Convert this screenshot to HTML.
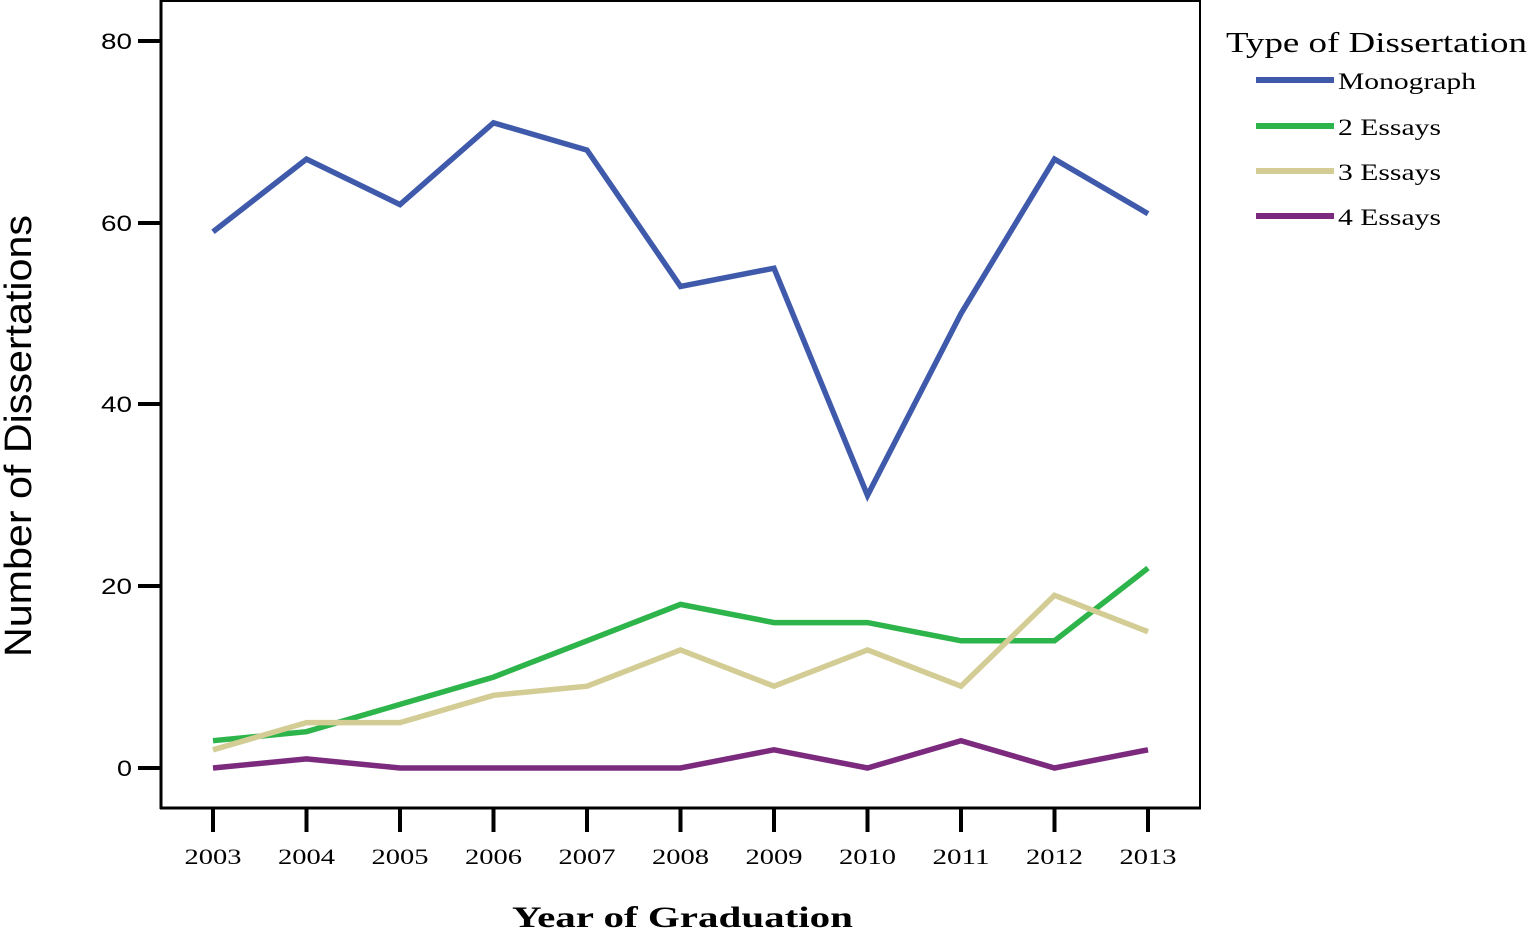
<!DOCTYPE html>
<html><head><meta charset="utf-8"><style>body{margin:0;background:#fff}svg{display:block}</style></head>
<body>
<svg width="1529" height="928" xmlns="http://www.w3.org/2000/svg">
<rect x="0" y="0" width="1529" height="928" fill="#fff"/>
<line x1="161" y1="1" x2="1200" y2="1" stroke="#000" stroke-width="2"/>
<line x1="1200" y1="0" x2="1200" y2="809" stroke="#000" stroke-width="2"/>
<line x1="161" y1="0" x2="161" y2="809" stroke="#000" stroke-width="3"/>
<line x1="160" y1="808" x2="1201" y2="808" stroke="#000" stroke-width="3"/>
<g stroke="#000" stroke-width="4">
<line x1="138" y1="41" x2="161" y2="41"/><line x1="138" y1="223" x2="161" y2="223"/>
<line x1="138" y1="404" x2="161" y2="404"/><line x1="138" y1="586" x2="161" y2="586"/>
<line x1="138" y1="768" x2="161" y2="768"/>
<line x1="213" y1="808" x2="213" y2="832"/><line x1="306.5" y1="808" x2="306.5" y2="832"/>
<line x1="400" y1="808" x2="400" y2="832"/><line x1="493.5" y1="808" x2="493.5" y2="832"/>
<line x1="587" y1="808" x2="587" y2="832"/><line x1="680.5" y1="808" x2="680.5" y2="832"/>
<line x1="774" y1="808" x2="774" y2="832"/><line x1="867.5" y1="808" x2="867.5" y2="832"/>
<line x1="961" y1="808" x2="961" y2="832"/><line x1="1054.5" y1="808" x2="1054.5" y2="832"/>
<line x1="1148" y1="808" x2="1148" y2="832"/>
</g>
<g font-family="Liberation Sans, sans-serif" font-size="22" fill="#000" lengthAdjust="spacingAndGlyphs">
<text x="101" y="49" textLength="31" lengthAdjust="spacingAndGlyphs">80</text>
<text x="101" y="231" textLength="31" lengthAdjust="spacingAndGlyphs">60</text>
<text x="101" y="412" textLength="31" lengthAdjust="spacingAndGlyphs">40</text>
<text x="101" y="594" textLength="31" lengthAdjust="spacingAndGlyphs">20</text>
<text x="117" y="776" textLength="15" lengthAdjust="spacingAndGlyphs">0</text>
</g>
<g font-family="Liberation Serif, serif" font-size="22" fill="#000">
<text x="184.5" y="864" textLength="57" lengthAdjust="spacingAndGlyphs">2003</text>
<text x="278" y="864" textLength="57" lengthAdjust="spacingAndGlyphs">2004</text>
<text x="371.5" y="864" textLength="57" lengthAdjust="spacingAndGlyphs">2005</text>
<text x="465" y="864" textLength="57" lengthAdjust="spacingAndGlyphs">2006</text>
<text x="558.5" y="864" textLength="57" lengthAdjust="spacingAndGlyphs">2007</text>
<text x="652" y="864" textLength="57" lengthAdjust="spacingAndGlyphs">2008</text>
<text x="745.5" y="864" textLength="57" lengthAdjust="spacingAndGlyphs">2009</text>
<text x="839" y="864" textLength="57" lengthAdjust="spacingAndGlyphs">2010</text>
<text x="932.5" y="864" textLength="57" lengthAdjust="spacingAndGlyphs">2011</text>
<text x="1026" y="864" textLength="57" lengthAdjust="spacingAndGlyphs">2012</text>
<text x="1119.5" y="864" textLength="57" lengthAdjust="spacingAndGlyphs">2013</text>
</g>
<text x="512" y="927" font-family="Liberation Serif, serif" font-size="30" font-weight="bold" textLength="341" lengthAdjust="spacingAndGlyphs">Year of Graduation</text>
<text transform="translate(31,657) rotate(-90)" font-family="Liberation Sans, sans-serif" font-size="38" textLength="442" lengthAdjust="spacingAndGlyphs">Number of Dissertations</text>
<g fill="none" stroke-width="5.5" stroke-linejoin="miter">
<polyline stroke="#3F5AAB" points="213,231.8 306.5,159.1 400,204.6 493.5,122.8 587,150.1 680.5,286.4 774,268.2 867.5,495.4 961,313.6 1054.5,159.1 1148,213.7"/>
<polyline stroke="#2DB44A" points="213,740.7 306.5,731.7 400,704.4 493.5,677.1 587,640.8 680.5,604.4 774,622.6 867.5,622.6 961,640.8 1054.5,640.8 1148,568.1"/>
<polyline stroke="#D3CD95" points="213,749.8 306.5,722.6 400,722.6 493.5,695.3 587,686.2 680.5,649.9 774,686.2 867.5,649.9 961,686.2 1054.5,595.3 1148,631.7"/>
<polyline stroke="#7B2A7E" points="213,768 306.5,758.9 400,768 493.5,768 587,768 680.5,768 774,749.8 867.5,768 961,740.7 1054.5,768 1148,749.8"/>
</g>
<text x="1226" y="52" font-family="Liberation Serif, serif" font-size="28" textLength="301" lengthAdjust="spacingAndGlyphs">Type of Dissertation</text>
<g stroke-width="6">
<line x1="1256" y1="80" x2="1334" y2="80" stroke="#3F5AAB"/>
<line x1="1256" y1="126" x2="1334" y2="126" stroke="#2DB44A"/>
<line x1="1256" y1="171" x2="1334" y2="171" stroke="#D3CD95"/>
<line x1="1256" y1="216" x2="1334" y2="216" stroke="#7B2A7E"/>
</g>
<g font-family="Liberation Serif, serif" font-size="23" fill="#000">
<text x="1338" y="89" textLength="138" lengthAdjust="spacingAndGlyphs">Monograph</text>
<text x="1338" y="135" textLength="103" lengthAdjust="spacingAndGlyphs">2 Essays</text>
<text x="1338" y="180" textLength="103" lengthAdjust="spacingAndGlyphs">3 Essays</text>
<text x="1338" y="225" textLength="103" lengthAdjust="spacingAndGlyphs">4 Essays</text>
</g>
</svg>
</body></html>
